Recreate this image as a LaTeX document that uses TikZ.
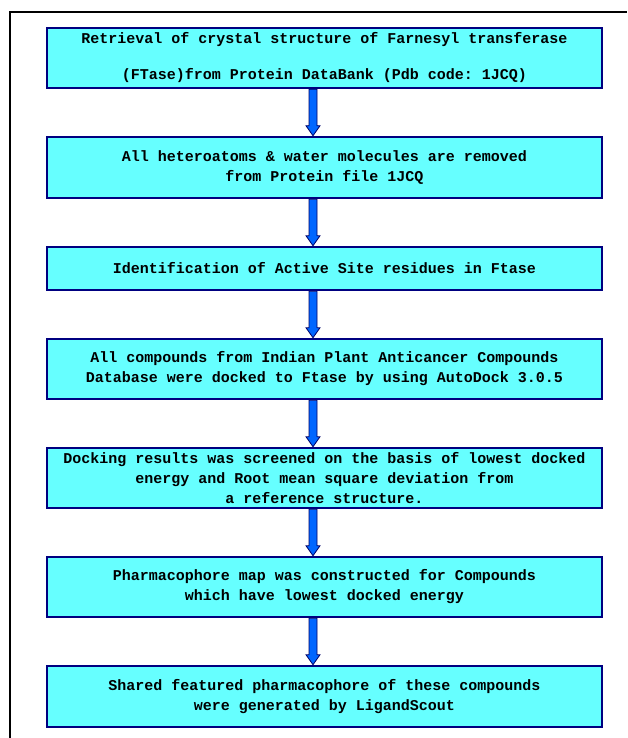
\documentclass[tikz,border=0pt]{standalone}
\usepackage{fontspec}
\setmonofont{Liberation Mono}
\usetikzlibrary{calc}
\definecolor{boxcyan}{RGB}{102,255,255}
\definecolor{boxnavy}{RGB}{0,0,128}
\definecolor{arrowblue}{RGB}{0,102,255}
\definecolor{arrownavy}{RGB}{0,0,102}

\begin{document}
\begin{tikzpicture}[x=1pt, y=-1pt,
        stage/.style={rectangle, draw=boxnavy, fill=boxcyan, line width=2.5pt, minimum width=555pt, inner sep=0pt, align=center, font=\ttfamily\bfseries\fontsize{15}{20}\selectfont},
        flow/.style={fill=arrowblue, draw=arrownavy, line width=0.8pt}]
        \useasboundingbox (0,0) rectangle (627,738);
        
        % Outer frame
        \draw[line width=2.5pt] (10,738) -- (10,12) -- (627,12);
        
        % Steps of the workflow
        \node[stage, minimum height=60pt] (S1) at (324.5,58) {Retrieval of crystal structure of Farnesyl transferase\\[16pt](FTase)from Protein DataBank (Pdb code: 1JCQ)};
        \node[stage, minimum height=61pt] (S2) at (324.5,167.5) {All heteroatoms \& water molecules are removed\\from Protein file 1JCQ};
        \node[stage, minimum height=43pt] (S3) at (324.5,268.5) {Identification of Active Site residues in Ftase};
        \node[stage, minimum height=60pt] (S4) at (324.5,369) {All compounds from Indian Plant Anticancer Compounds\\Database were docked to Ftase by using AutoDock 3.0.5};
        \node[stage, minimum height=60pt] (S5) at (324.5,478) {Docking results was screened on the basis of lowest docked\\energy and Root mean square deviation from\\a reference structure.};
        \node[stage, minimum height=60pt] (S6) at (324.5,587) {Pharmacophore map was constructed for Compounds\\which have lowest docked energy};
        \node[stage, minimum height=61pt] (S7) at (324.5,696.5) {Shared featured pharmacophore of these compounds\\were generated by LigandScout};
        
        % Arrows run down this line
        \coordinate (axis) at (313,0);
        
        % Connect each step to the next one
        \foreach \i/\j in {S1/S2, S2/S3, S3/S4, S4/S5, S5/S6, S6/S7} {
            \draw[flow] ($(\i.south -| axis)+(-4,0)$) -- ($(\j.north -| axis)+(-4,-10)$) -- ++(-3,0) -- (\j.north -| axis) -- ++(7,-10) -- ++(-3,0) -- ($(\i.south -| axis)+(4,0)$) -- cycle;
        }
    \end{tikzpicture}
\end{document}
